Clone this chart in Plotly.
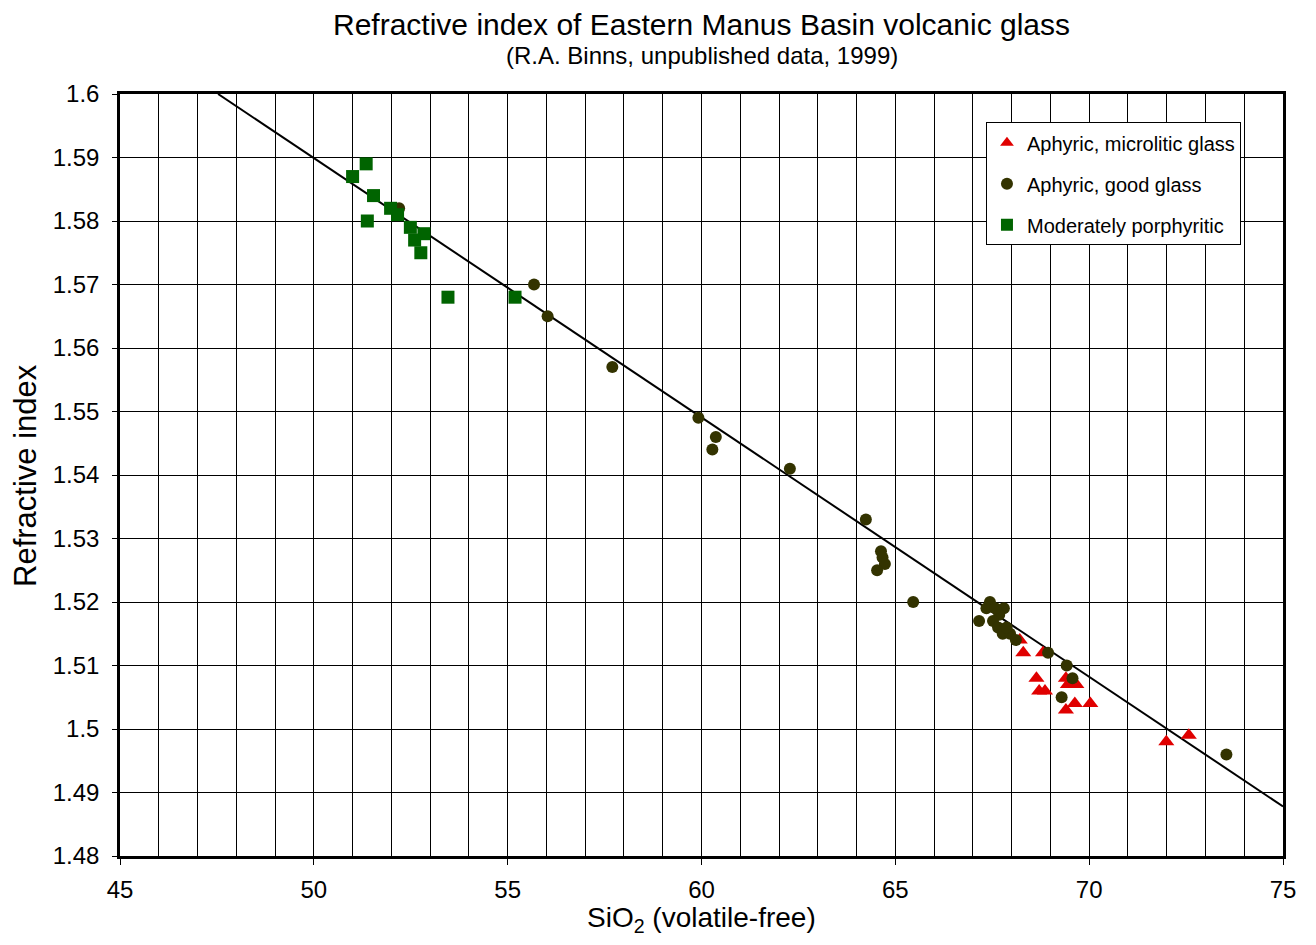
import plotly.graph_objects as go

# ---- data ----
micro_x = [68.21, 68.30, 68.81, 68.64, 68.71, 68.86, 69.40, 69.45, 69.55, 69.67, 69.40, 69.63, 70.03, 71.99, 72.57]
micro_y = [1.514, 1.512, 1.512, 1.508, 1.506, 1.506, 1.508, 1.507, 1.507, 1.507, 1.503, 1.504, 1.504, 1.498, 1.499]

good_x = [52.20, 55.68, 56.03, 57.70, 59.92, 60.37, 60.28, 62.28, 64.24, 64.63, 64.67, 64.73, 64.53, 65.46,
          67.44, 67.80, 67.68, 67.16, 67.52, 67.65, 67.77, 67.96, 68.11, 67.35, 67.58, 67.87,
          68.94, 69.42, 69.57, 69.29, 73.54]
good_y = [1.582, 1.570, 1.565, 1.557, 1.549, 1.546, 1.544, 1.541, 1.533, 1.528, 1.527, 1.526, 1.525, 1.520,
          1.520, 1.519, 1.518, 1.517, 1.517, 1.516, 1.515, 1.515, 1.514, 1.519, 1.519, 1.516,
          1.512, 1.510, 1.508, 1.505, 1.496]

porph_x = [51.35, 51.00, 51.54, 51.98, 52.16, 51.38, 52.49, 52.84, 52.60, 52.76, 53.46, 55.19]
porph_y = [1.589, 1.587, 1.584, 1.582, 1.581, 1.580, 1.579, 1.578, 1.577, 1.575, 1.568, 1.568]

fit_x = [47.53, 75.0]
fit_y = [1.600, 1.4878]

y_tickvals = [1.6, 1.59, 1.58, 1.57, 1.56, 1.55, 1.54, 1.53, 1.52, 1.51, 1.5, 1.49, 1.48]
y_ticktext = ["1.6", "1.59", "1.58", "1.57", "1.56", "1.55", "1.54", "1.53", "1.52", "1.51", "1.5", "1.49", "1.48"]
x_tickvals = [45, 50, 55, 60, 65, 70, 75]

FONT = "Liberation Sans, Arial, Helvetica, sans-serif"

fig = go.Figure()
fig.add_trace(go.Scatter(x=fit_x, y=fit_y, mode="lines", line=dict(color="black", width=2),
                         showlegend=False, hoverinfo="skip"))
fig.add_trace(go.Scatter(x=micro_x, y=micro_y, mode="markers", name="Aphyric, microlitic glass",
                         legendgroup="a",
                         marker=dict(symbol="triangle-up", size=14, color="#e00000", line=dict(width=0))))
fig.add_trace(go.Scatter(x=good_x, y=good_y, mode="markers", name="Aphyric, good glass",
                         legendgroup="b",
                         marker=dict(symbol="circle", size=12, color="#333300", line=dict(width=0))))
fig.add_trace(go.Scatter(x=porph_x, y=porph_y, mode="markers", name="Moderately porphyritic",
                         legendgroup="c",
                         marker=dict(symbol="square", size=13, color="#006400", line=dict(width=0))))

fig.update_layout(
    width=1300, height=929,
    margin=dict(l=112, r=25, t=86, b=81),
    paper_bgcolor="white", plot_bgcolor="white",
    font=dict(family=FONT, color="black", size=24),
    showlegend=True,
    legend=dict(x=0.7446, y=0.963, xanchor="left", yanchor="top",
                bgcolor="white", bordercolor="black", borderwidth=1,
                font=dict(size=20, family=FONT), traceorder="grouped", tracegroupgap=12,
                itemsizing="constant"),
    xaxis=dict(range=[45, 75], tickvals=x_tickvals, ticks="outside", ticklen=6, tickwidth=1,
               tickcolor="black", showgrid=True, gridcolor="black", gridwidth=1,
               minor=dict(dtick=1, showgrid=True, gridcolor="black", gridwidth=1, ticks=""),
               showline=True, linecolor="black", linewidth=2.5, mirror=True, zeroline=False,
               ticklabelstandoff=4, tickfont=dict(size=24)),
    yaxis=dict(range=[1.48, 1.6], tickvals=y_tickvals, ticktext=y_ticktext, ticks="outside",
               ticklen=5, tickwidth=1, tickcolor="black", showgrid=True, gridcolor="black",
               gridwidth=1, showline=True, linecolor="black", linewidth=2.5, mirror=True,
               zeroline=False, ticklabelstandoff=8, tickfont=dict(size=24)),
    annotations=[
        dict(text="Refractive index of Eastern Manus Basin volcanic glass", xref="paper", yref="paper",
             x=0.5, y=1.0906, xanchor="center", yanchor="middle", showarrow=False,
             font=dict(size=30, family=FONT)),
        dict(text="(R.A. Binns, unpublished data, 1999)", xref="paper", yref="paper",
             x=0.5, y=1.0505, xanchor="center", yanchor="middle", showarrow=False,
             font=dict(size=24, family=FONT)),
        dict(text="SiO<sub>2</sub> (volatile-free)", xref="paper", yref="paper",
             x=0.5, y=-0.0827, xanchor="center", yanchor="middle", showarrow=False,
             font=dict(size=28, family=FONT)),
        dict(text="Refractive index", xref="paper", yref="paper", textangle=-90,
             x=-0.0817, y=0.5, xanchor="center", yanchor="middle", showarrow=False,
             font=dict(size=31, family=FONT)),
    ],
)

fig.write_html("out.html")
